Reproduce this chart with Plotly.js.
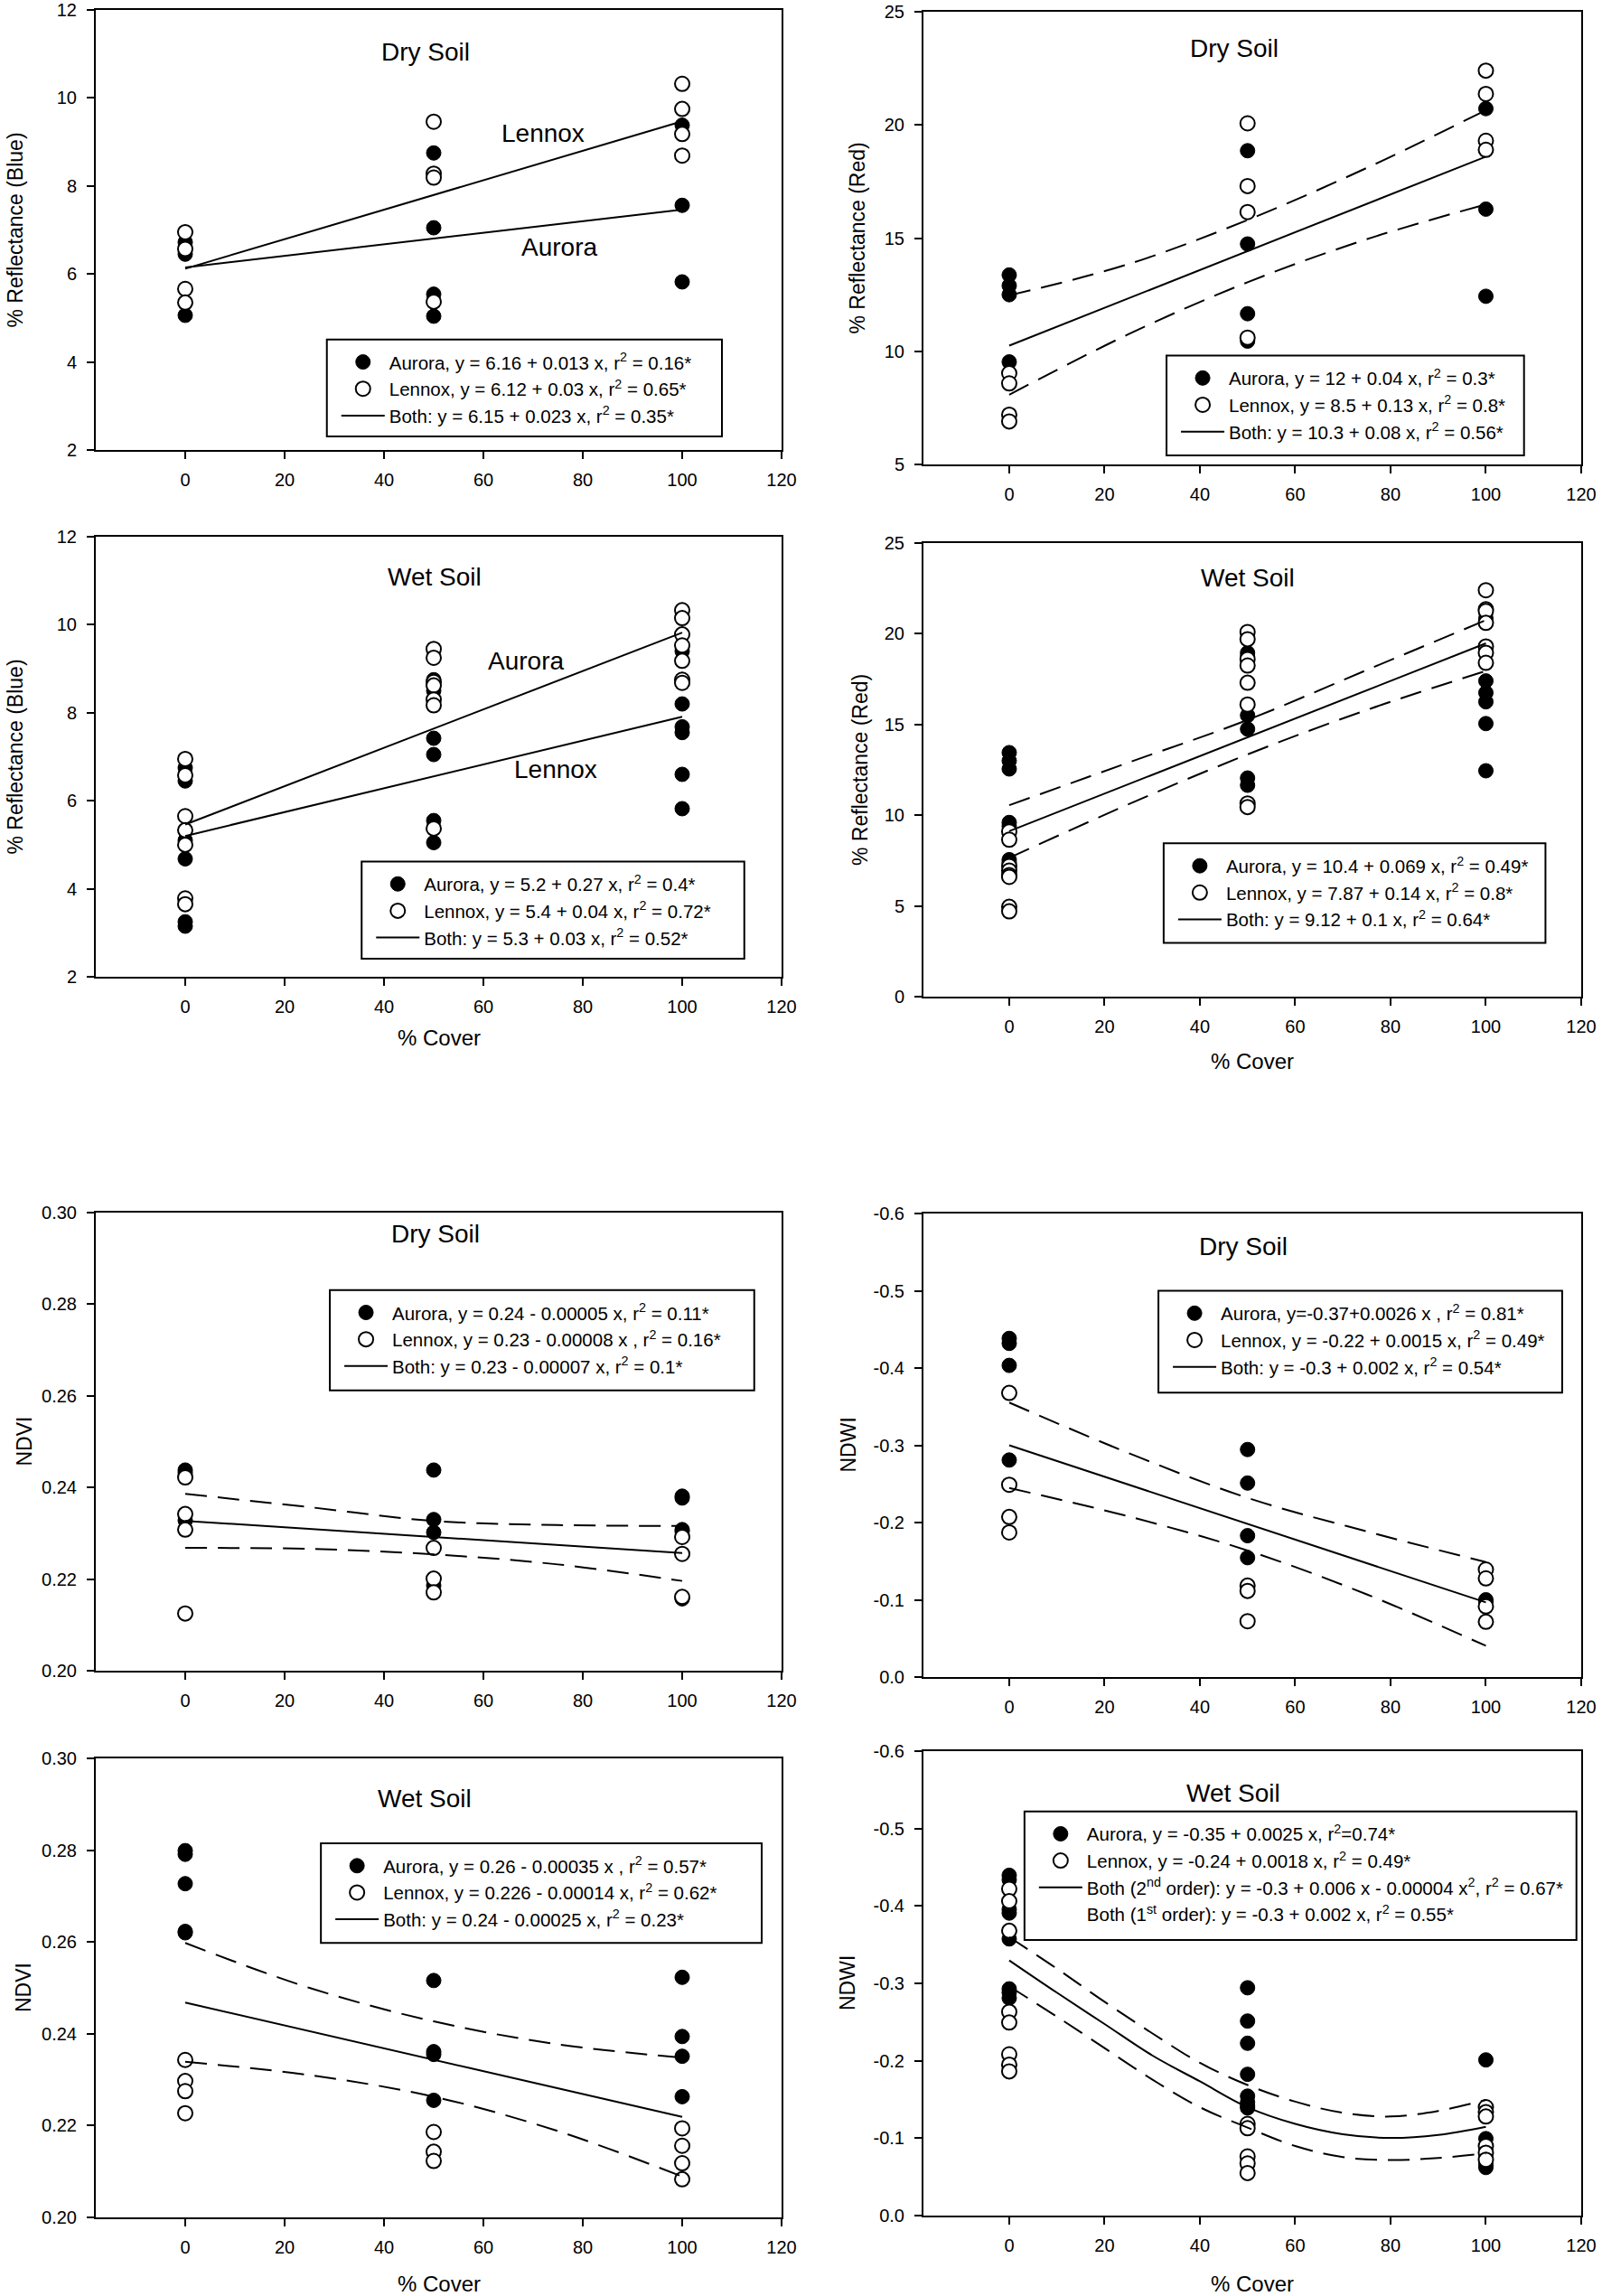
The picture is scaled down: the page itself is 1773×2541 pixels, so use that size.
<!DOCTYPE html>
<html><head><meta charset="utf-8">
<script src="https://cdn.plot.ly/plotly-3.0.1.min.js"></script>
<style>html,body{margin:0;padding:0;background:#fff}#chart{width:1773px;height:2541px}</style>
</head><body><div id="chart"></div>
<script>
// ---------------- DATA ----------------
const coverTicks = [0, 20, 40, 60, 80, 100, 120];
const fitCover = [0, 100];
const bandCover = [0, 25, 50, 75, 100];
const curveCover = [0, 10, 20, 30, 40, 50, 60, 70, 80, 90, 100];

// Blue, dry soil
const blueDryAuroraCover = [0,0,0, 50,50,50,50, 100,100,100];
const blueDryAuroraRefl  = [6.72,6.45,5.06, 8.75,7.05,5.54,5.04, 9.38,7.56,5.82];
const blueDryLennoxCover = [0,0,0,0, 50,50,50,50, 100,100,100,100];
const blueDryLennoxRefl  = [6.95,6.57,5.66,5.35, 9.46,8.28,8.19,5.37, 10.32,9.75,9.18,8.69];
const blueDryLennoxFit = [6.12, 9.47];
const blueDryAuroraFit = [6.15, 7.46];

// Red, dry soil
const redDryAuroraCover = [0,0,0,0, 50,50,50,50, 100,100,100];
const redDryAuroraRefl  = [13.37,12.9,12.5,9.53, 18.86,14.74,11.66,10.45, 20.72,16.28,12.43];
const redDryLennoxCover = [0,0,0,0, 50,50,50,50, 100,100,100,100];
const redDryLennoxRefl  = [9.03,8.58,7.2,6.9, 20.07,17.3,16.15,10.6, 22.4,21.37,19.3,18.9];
const redDryBothFit = [10.25, 18.6];
const redDryUpper = [12.47, 13.85, 15.8, 18.1, 20.65];
const redDryLower = [8.08, 10.75, 13.05, 14.95, 16.49];

// Blue, wet soil
const blueWetAuroraCover = [0,0,0,0,0,0, 50,50,50,50,50,50, 100,100,100,100,100,100,100];
const blueWetAuroraRefl  = [6.75,6.45,5.1,4.68,3.25,3.15, 8.75,8.5,7.42,7.05,5.55,5.05, 9.4,8.75,8.2,7.68,7.55,6.6,5.82];
const blueWetLennoxCover = [0,0,0,0,0,0,0, 50,50,50,50,50,50,50, 100,100,100,100,100,100,100];
const blueWetLennoxRefl  = [6.95,6.58,5.65,5.33,5.0,3.78,3.65, 9.45,9.25,8.7,8.62,8.3,8.17,5.37, 10.33,10.15,9.78,9.53,9.18,8.75,8.68];
const blueWetAuroraFit = [5.46, 9.82];
const blueWetLennoxFit = [5.2, 7.91];

// Red, wet soil
const redWetAuroraCover = [0,0,0,0,0,0,0, 50,50,50,50,50,50, 100,100,100,100,100,100];
const redWetAuroraRefl  = [13.45,13.0,12.55,9.6,9.4,7.55,7.4, 18.95,18.75,15.5,14.75,12.05,11.65, 20.85,17.4,16.75,16.25,15.05,12.45];
const redWetLennoxCover = [0,0,0,0,0,0,0,0, 50,50,50,50,50,50,50,50, 100,100,100,100,100,100,100];
const redWetLennoxRefl  = [9.1,8.65,7.2,6.95,6.7,6.6,4.95,4.7, 20.1,19.7,18.6,18.25,17.3,16.1,10.65,10.45, 22.4,21.35,21.25,20.6,19.3,18.95,18.4];
const redWetBothFit = [9.12, 19.47];
const redWetUpper = [10.55, 12.9, 15.25, 18.0, 20.75];
const redWetLower = [7.65, 10.6, 13.35, 15.8, 17.95];

// NDVI, dry soil
const ndviDryAuroraCover = [0,0,0, 50,50,50,50, 100,100,100,100,100];
const ndviDryAuroraVal   = [0.2438,0.2432,0.2328, 0.2438,0.2330,0.2302,0.2186, 0.2381,0.2377,0.2308,0.2304,0.2157];
const ndviDryLennoxCover = [0,0,0,0, 50,50,50, 100,100,100];
const ndviDryLennoxVal   = [0.2422,0.2342,0.2308,0.2125, 0.2268,0.2201,0.2171, 0.2292,0.2255,0.2161];
const ndviDryBothFit = [0.2327, 0.2257];
const ndviDryUpper = [0.2386, 0.2357, 0.2327, 0.2318, 0.2316];
const ndviDryLower = [0.2268, 0.2266, 0.2254, 0.2232, 0.2196];

// NDWI, dry soil
const ndwiDryAuroraCover = [0,0,0,0, 50,50,50,50, 100,100];
const ndwiDryAuroraVal   = [-0.4383,-0.4319,-0.4034,-0.2809, -0.2945,-0.2511,-0.183,-0.1545, -0.1,-0.0975];
const ndwiDryLennoxCover = [0,0,0,0, 50,50,50, 100,100,100,100];
const ndwiDryLennoxVal   = [-0.3677,-0.2489,-0.2072,-0.1872, -0.1183,-0.1115,-0.0723, -0.1391,-0.1277,-0.0915,-0.0715];
const ndwiDryBothFit = [-0.3, -0.0966];
const ndwiDryUpper = [-0.3553, -0.290, -0.2319, -0.1885, -0.1489];
const ndwiDryLower = [-0.2447, -0.208, -0.1638, -0.107, -0.0404];

// NDVI, wet soil
const ndviWetAuroraCover = [0,0,0,0,0, 50,50,50,50, 100,100,100,100];
const ndviWetAuroraVal   = [0.2799,0.2791,0.2727,0.2623,0.2620, 0.2516,0.2361,0.2355,0.2255, 0.2523,0.2394,0.2351,0.2263];
const ndviWetLennoxCover = [0,0,0,0, 50,50,50, 100,100,100,100];
const ndviWetLennoxVal   = [0.2343,0.2297,0.2275,0.2227, 0.2186,0.2143,0.2123, 0.2194,0.2156,0.2118,0.2083];
const ndviWetBothFit = [0.2468, 0.2219];
const ndviWetUpper = [0.2598, 0.2500, 0.2427, 0.2377, 0.2348];
const ndviWetLower = [0.2339, 0.2310, 0.2263, 0.2188, 0.2089];

// NDWI, wet soil
const ndwiWetAuroraCover = [0,0,0,0,0,0,0,0, 50,50,50,50,50,50,50,50, 100,100,100,100,100];
const ndwiWetAuroraVal   = [-0.4396,-0.4338,-0.3956,-0.3908,-0.3574,-0.2929,-0.2881,-0.2809, -0.2943,-0.2513,-0.2226,-0.1825,-0.1543,-0.1462,-0.1414,-0.139, -0.2011,-0.0994,-0.0898,-0.0659,-0.0621];
const ndwiWetLennoxCover = [0,0,0,0,0,0,0,0, 50,50,50,50,50, 100,100,100,100,100,100];
const ndwiWetLennoxVal   = [-0.4219,-0.4061,-0.3679,-0.2633,-0.2494,-0.2083,-0.195,-0.1863, -0.1185,-0.1128,-0.0764,-0.0674,-0.055, -0.14,-0.1338,-0.128,-0.0898,-0.0812,-0.0721];
const ndwiWetBothCurve = [-0.3297,-0.288,-0.2475,-0.2069,-0.1734,-0.14,-0.1185,-0.1051,-0.1003,-0.1042,-0.1147];
const ndwiWetUpper = [-0.3598,-0.319,-0.2762,-0.2355,-0.1973,-0.1687,-0.1472,-0.1328,-0.128,-0.1352,-0.1495];
const ndwiWetLower = [-0.2962,-0.257,-0.2164,-0.1758,-0.14,-0.1137,-0.0898,-0.0755,-0.0717,-0.0745,-0.0803];

// tick labels
const blueTicks = [2, 4, 6, 8, 10, 12];
const redDryTicks = [5, 10, 15, 20, 25];
const redWetTicks = [0, 5, 10, 15, 20, 25];
const ndviTicks = [0.20, 0.22, 0.24, 0.26, 0.28, 0.30];
const ndviTickText = ['0.20', '0.22', '0.24', '0.26', '0.28', '0.30'];
const ndwiTicks = [-0.6, -0.5, -0.4, -0.3, -0.2, -0.1, 0.0];
const ndwiTickText = ['-0.6', '-0.5', '-0.4', '-0.3', '-0.2', '-0.1', '0.0'];

// texts
const yTitles = ['% Reflectance (Blue)', '% Reflectance (Red)', '% Reflectance (Blue)', '% Reflectance (Red)', 'NDVI', 'NDWI', 'NDVI', 'NDWI'];
const soilLabels = ['Dry Soil', 'Dry Soil', 'Wet Soil', 'Wet Soil', 'Dry Soil', 'Dry Soil', 'Wet Soil', 'Wet Soil'];
const xTitle = '% Cover';
const legendTexts = [
  ['Aurora, y = 6.16 + 0.013 x, r<sup>2</sup> = 0.16*', 'Lennox, y = 6.12 + 0.03 x, r<sup>2</sup> = 0.65*', 'Both: y = 6.15 + 0.023 x, r<sup>2</sup> = 0.35*'],
  ['Aurora, y = 12 + 0.04 x, r<sup>2</sup> = 0.3*', 'Lennox, y = 8.5 + 0.13 x, r<sup>2</sup> = 0.8*', 'Both: y = 10.3 + 0.08 x, r<sup>2</sup> = 0.56*'],
  ['Aurora, y = 5.2 + 0.27 x, r<sup>2</sup> = 0.4*', 'Lennox, y = 5.4 + 0.04 x, r<sup>2</sup> = 0.72*', 'Both: y = 5.3 + 0.03 x, r<sup>2</sup> = 0.52*'],
  ['Aurora, y = 10.4 + 0.069 x, r<sup>2</sup> = 0.49*', 'Lennox, y = 7.87 + 0.14 x, r<sup>2</sup> = 0.8*', 'Both: y = 9.12 + 0.1 x, r<sup>2</sup> = 0.64*'],
  ['Aurora, y = 0.24 - 0.00005 x, r<sup>2</sup> = 0.11*', 'Lennox, y = 0.23 - 0.00008 x , r<sup>2</sup> = 0.16*', 'Both: y = 0.23 - 0.00007 x, r<sup>2</sup> = 0.1*'],
  ['Aurora, y=-0.37+0.0026 x , r<sup>2</sup> = 0.81*', 'Lennox, y = -0.22 + 0.0015 x, r<sup>2</sup> = 0.49*', 'Both: y = -0.3 + 0.002 x, r<sup>2</sup> = 0.54*'],
  ['Aurora, y = 0.26 - 0.00035 x , r<sup>2</sup> = 0.57*', 'Lennox, y = 0.226 - 0.00014 x, r<sup>2</sup> = 0.62*', 'Both: y = 0.24 - 0.00025 x, r<sup>2</sup> = 0.23*'],
  ['Aurora, y = -0.35 + 0.0025 x, r<sup>2</sup>=0.74*', 'Lennox, y = -0.24 + 0.0018 x, r<sup>2</sup> = 0.49*', 'Both (2<sup>nd</sup> order): y = -0.3 + 0.006 x - 0.00004 x<sup>2</sup>, r<sup>2</sup> = 0.67*', 'Both (1<sup>st</sup> order): y = -0.3 + 0.002 x, r<sup>2</sup> = 0.55*']
];

// ---------------- LAYOUT HELPERS ----------------
const W = 1773, H = 2541;
const FONT = 'Liberation Sans, Arial, Helvetica, sans-serif';
const XR = [-18, 120];
const colPx = [[106, 865], [1022, 1750]];

const panels = [
  {col:0, top:11,   bot:498,  yr:[2,12],    tv:blueTicks, tt:null, aur:[blueDryAuroraCover, blueDryAuroraRefl], len:[blueDryLennoxCover, blueDryLennoxRefl],
   lines:[[fitCover, blueDryLennoxFit], [fitCover, blueDryAuroraFit]], dashed:[], soil:[48.3, 11.05],
   inline:[['Lennox', 72, 9.2], ['Aurora', 75.2, 6.6]], box:[28.5, 108, 2.31, 4.51], ytx:16},
  {col:1, top:13,   bot:514,  yr:[5,25],    tv:redDryTicks, tt:null, aur:[redDryAuroraCover, redDryAuroraRefl], len:[redDryLennoxCover, redDryLennoxRefl],
   both:[fitCover, redDryBothFit], dashed:[[bandCover, redDryUpper], [bandCover, redDryLower]], soil:[47.3, 23.4],
   inline:[], box:[33, 108, 5.4, 9.81], ytx:949},
  {col:0, top:594,  bot:1081, yr:[2,12],    tv:blueTicks, tt:null, aur:[blueWetAuroraCover, blueWetAuroraRefl], len:[blueWetLennoxCover, blueWetLennoxRefl],
   lines:[[fitCover, blueWetAuroraFit], [fitCover, blueWetLennoxFit]], dashed:[], soil:[50.2, 11.09],
   inline:[['Aurora', 68.5, 9.17], ['Lennox', 74.5, 6.71]], box:[35.5, 112.5, 2.41, 4.62], ytx:16, xt:1148},
  {col:1, top:601,  bot:1103, yr:[0,25],    tv:redWetTicks, tt:null, aur:[redWetAuroraCover, redWetAuroraRefl], len:[redWetLennoxCover, redWetLennoxRefl],
   both:[fitCover, redWetBothFit], dashed:[[bandCover, redWetUpper], [bandCover, redWetLower]], soil:[50, 23.1],
   inline:[], box:[32.4, 112.5, 2.96, 8.45], ytx:952, xt:1174},
  {col:0, top:1342, bot:1849, yr:[0.20,0.30], tv:ndviTicks, tt:ndviTickText, aur:[ndviDryAuroraCover, ndviDryAuroraVal], len:[ndviDryLennoxCover, ndviDryLennoxVal],
   both:[fitCover, ndviDryBothFit], dashed:[[bandCover, ndviDryUpper], [bandCover, ndviDryLower]], soil:[50.4, 0.2953],
   inline:[], box:[29.1, 114.5, 0.2612, 0.2831], ytx:26},
  {col:1, top:1343, bot:1856, yr:[0,-0.6], tv:ndwiTicks, tt:ndwiTickText, aur:[ndwiDryAuroraCover, ndwiDryAuroraVal], len:[ndwiDryLennoxCover, ndwiDryLennoxVal],
   both:[fitCover, ndwiDryBothFit], dashed:[[bandCover, ndwiDryUpper], [bandCover, ndwiDryLower]], soil:[49.1, -0.5574],
   inline:[], box:[31.3, 116, -0.368, -0.5], ytx:938},
  {col:0, top:1946, bot:2454, yr:[0.20,0.30], tv:ndviTicks, tt:ndviTickText, aur:[ndviWetAuroraCover, ndviWetAuroraVal], len:[ndviWetLennoxCover, ndviWetLennoxVal],
   both:[fitCover, ndviWetBothFit], dashed:[[bandCover, ndviWetUpper], [bandCover, ndviWetLower]], soil:[48.2, 0.2912],
   inline:[], box:[27.3, 116, 0.2598, 0.2815], ytx:26, xt:2527},
  {col:1, top:1938, bot:2452, yr:[0,-0.6], tv:ndwiTicks, tt:ndwiTickText, aur:[ndwiWetAuroraCover, ndwiWetAuroraVal], len:[ndwiWetLennoxCover, ndwiWetLennoxVal],
   both:[curveCover, ndwiWetBothCurve], dashed:[[curveCover, ndwiWetUpper], [curveCover, ndwiWetLower]], soil:[47.1, -0.5461],
   inline:[], box:[3.2, 119, -0.356, -0.5222], ytx:938, xt:2527, extra:true}
];

const traces = [];
const layout = {
  width: W, height: H, margin: {l:0, r:0, t:0, b:0},
  paper_bgcolor: 'white', plot_bgcolor: 'white',
  font: {family: FONT, color: 'black', size: 20},
  showlegend: true, annotations: [], shapes: []
};

const filled = {symbol: 'circle', size: 16, color: 'black', line: {color: 'black', width: 1}};
const open = {symbol: 'circle', size: 16, color: 'white', line: {color: 'black', width: 2}};

panels.forEach((p, i) => {
  const n = i + 1;
  const xa = n === 1 ? 'x' : 'x' + n, ya = n === 1 ? 'y' : 'y' + n;
  const xk = n === 1 ? 'xaxis' : 'xaxis' + n, yk = n === 1 ? 'yaxis' : 'yaxis' + n;
  const lg = n === 1 ? 'legend' : 'legend' + n;
  const cx = colPx[p.col];
  const dx = [cx[0] / W, cx[1] / W];
  const dy = [1 - p.bot / H, 1 - p.top / H];

  const common = {showline: true, mirror: true, linecolor: 'black', linewidth: 2, ticks: 'outside', ticklen: 8, tickwidth: 2,
    tickcolor: 'black', showgrid: false, zeroline: false, fixedrange: true, tickfont: {size: 20, family: FONT, color: 'black'}};
  layout[xk] = Object.assign({}, common, {domain: dx, range: XR, anchor: ya, tickmode: 'array', tickvals: coverTicks,
    ticktext: coverTicks.map(String), ticklabelstandoff: 6});
  layout[yk] = Object.assign({}, common, {domain: dy, range: p.yr, anchor: xa, tickmode: 'array', tickvals: p.tv,
    ticktext: p.tt ? p.tt : p.tv.map(String), ticklabelstandoff: 7});

  const names = legendTexts[i];
  traces.push({x: p.aur[0], y: p.aur[1], xaxis: xa, yaxis: ya, type: 'scatter', mode: 'markers', marker: filled,
    name: names[0], legend: lg, legendgroup: lg + 'a', showlegend: true});
  traces.push({x: p.len[0], y: p.len[1], xaxis: xa, yaxis: ya, type: 'scatter', mode: 'markers', marker: open,
    name: names[1], legend: lg, legendgroup: lg + 'b', showlegend: true});
  if (p.lines) {
    p.lines.forEach(l => traces.push({x: l[0], y: l[1], xaxis: xa, yaxis: ya, type: 'scatter', mode: 'lines',
      line: {color: 'black', width: 2}, showlegend: false, hoverinfo: 'skip'}));
    traces.push({x: [null], y: [null], xaxis: xa, yaxis: ya, type: 'scatter', mode: 'lines', line: {color: 'black', width: 2},
      name: names[2], legend: lg, legendgroup: lg + 'c', showlegend: true});
  } else {
    traces.push({x: p.both[0], y: p.both[1], xaxis: xa, yaxis: ya, type: 'scatter', mode: 'lines',
      line: {color: 'black', width: 2, shape: 'spline'}, name: names[2], legend: lg, legendgroup: lg + 'c', showlegend: true});
  }
  p.dashed.forEach(d => traces.push({x: d[0], y: d[1], xaxis: xa, yaxis: ya, type: 'scatter', mode: 'lines',
    line: {color: 'black', width: 2, dash: '24px,12px', shape: 'spline'}, showlegend: false, hoverinfo: 'skip'}));
  if (p.extra) {
    traces.push({x: [null], y: [null], xaxis: xa, yaxis: ya, type: 'scatter', mode: 'lines', line: {color: 'rgba(0,0,0,0)', width: 2},
      name: names[3], legend: lg, legendgroup: lg + 'd', showlegend: true});
  }

  // legend box
  const b = p.box;
  layout.shapes.push({type: 'rect', xref: xa, yref: ya, x0: b[0], x1: b[1], y0: b[2], y1: b[3],
    line: {color: 'black', width: 2}, fillcolor: 'white', layer: 'below'});
  const toPX = x => dx[0] + (x - XR[0]) / (XR[1] - XR[0]) * (dx[1] - dx[0]);
  const toPY = y => dy[0] + (y - p.yr[0]) / (p.yr[1] - p.yr[0]) * (dy[1] - dy[0]);
  const topY = Math.max(toPY(b[2]), toPY(b[3]));
  layout[lg] = {x: toPX(b[0]) + 11 / W, y: topY - 5 / H, xref: 'paper', yref: 'paper', xanchor: 'left', yanchor: 'top',
    bgcolor: 'rgba(0,0,0,0)', borderwidth: 0, font: {size: 20.5, family: FONT, color: 'black'}, itemwidth: 48,
    tracegroupgap: 0, traceorder: 'normal', itemclick: false, itemdoubleclick: false};

  // soil label
  layout.annotations.push({xref: xa, yref: ya, x: p.soil[0], y: p.soil[1], text: soilLabels[i], showarrow: false,
    font: {size: 28, family: FONT}, xanchor: 'center', yanchor: 'middle'});
  p.inline.forEach(t => layout.annotations.push({xref: xa, yref: ya, x: t[1], y: t[2], text: t[0], showarrow: false,
    font: {size: 28, family: FONT}, xanchor: 'center', yanchor: 'middle'}));
  // y title
  layout.annotations.push({xref: 'paper', yref: 'paper', x: p.ytx / W, y: 1 - (p.top + p.bot) / 2 / H, text: yTitles[i],
    textangle: -90, showarrow: false, font: {size: 23, family: FONT}, xanchor: 'center', yanchor: 'middle'});
  // x title
  if (p.xt) {
    layout.annotations.push({xref: 'paper', yref: 'paper', x: (cx[0] + cx[1]) / 2 / W, y: 1 - p.xt / H, text: xTitle,
      showarrow: false, font: {size: 24, family: FONT}, xanchor: 'center', yanchor: 'middle'});
  }
});

Plotly.newPlot('chart', traces, layout, {staticPlot: true, displayModeBar: false});
</script></body></html>
